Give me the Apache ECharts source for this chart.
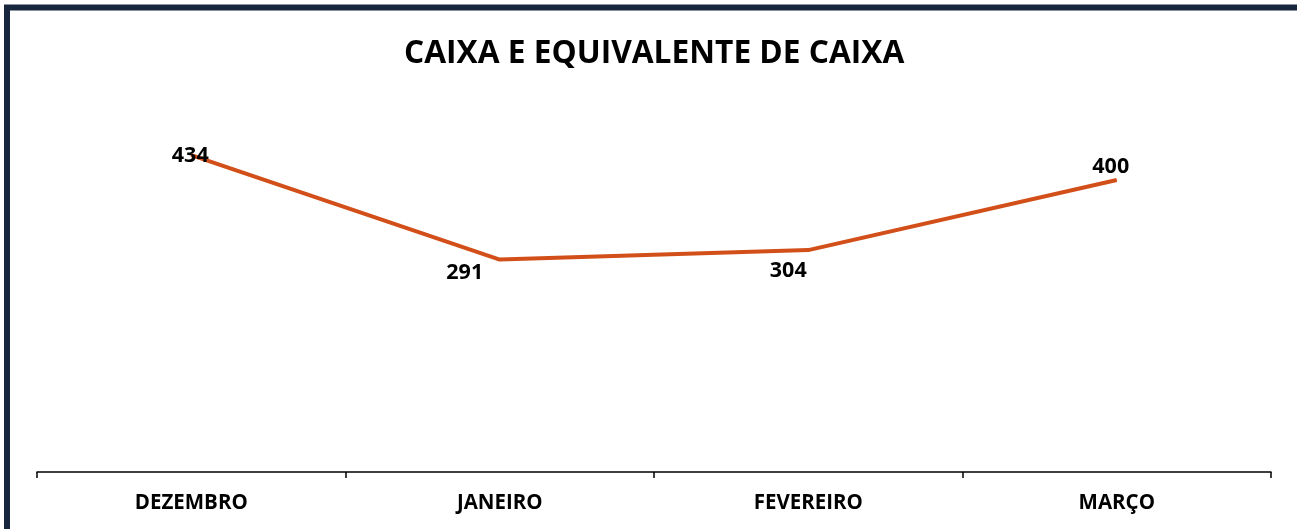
<!DOCTYPE html>
<html>
<head>
<meta charset="utf-8">
<script src="https://cdn.jsdelivr.net/npm/echarts@6/dist/echarts.min.js"></script>
<style>html,body{margin:0;padding:0;background:#fff;}#c{width:1297px;height:529px;}</style>
</head>
<body>
<div id="c"></div>
<script>
const titleText = 'CAIXA E EQUIVALENTE DE CAIXA';
const categories = ['DEZEMBRO', 'JANEIRO', 'FEVEREIRO', 'MARÇO'];
const values = [434, 291, 304, 400];
// label offsets (styling only)
const labelOffsets = [[-1, 1], [-35, 13], [-20, 21], [-6, -13]];

const FONT = '"Open Sans", "Liberation Sans", sans-serif';
const chart = echarts.init(document.getElementById('c'), null, {renderer: 'canvas'});
chart.setOption({
  animation: false,
  backgroundColor: '#ffffff',
  title: {
    text: titleText,
    left: 399,
    top: 33,
    textStyle: {fontFamily: FONT, fontWeight: 'bold', fontSize: 31.7, color: '#000'}
  },
  graphic: [{
    type: 'rect',
    shape: {x: 7, y: 7.5, width: 1400, height: 700},
    style: {fill: 'none', stroke: '#17263c', lineWidth: 6},
    silent: true
  }],
  grid: {left: 37, right: 26, top: 107, bottom: 57},
  xAxis: {
    type: 'category',
    data: categories,
    boundaryGap: true,
    axisLine: {lineStyle: {color: '#000', width: 1.5}},
    axisTick: {show: true, length: 6, lineStyle: {color: '#000', width: 1.5}},
    axisLabel: {fontFamily: FONT, fontWeight: 'bold', fontSize: 20.5, color: '#000', margin: 21}
  },
  yAxis: {
    type: 'value', min: 0, max: 500,
    show: false,
    splitLine: {show: false}
  },
  series: [{
    type: 'line',
    data: values.map((v, i) => ({
      value: v,
      label: {offset: labelOffsets[i]}
    })),
    symbol: 'circle',
    symbolSize: 1,
    itemStyle: {color: '#d24f19'},
    lineStyle: {color: '#d24f19', width: 4},
    label: {
      show: true,
      position: 'inside',
      fontFamily: FONT, fontWeight: 'bold', fontSize: 21.5, color: '#000'
    }
  }]
});
</script>
</body>
</html>
